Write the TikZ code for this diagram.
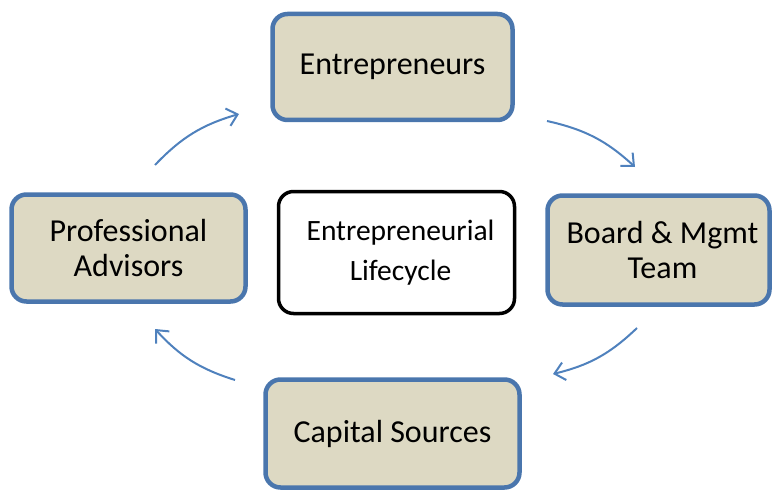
\documentclass[tikz,border=0pt]{standalone}
\usepackage{fontspec}
\setmainfont{Carlito}
\usetikzlibrary{arrows.meta}
\definecolor{boxblue}{HTML}{4A76AD}
\definecolor{arrowblue}{HTML}{4F81BD}
\definecolor{tan}{HTML}{DDD9C3}
\begin{document}
\begin{tikzpicture}[x=1pt,y=1pt,
  stagebox/.style={draw=boxblue, fill=tan, line width=4.5pt, rounded corners=15pt,
    align=center, inner sep=0pt, font=\fontsize{32}{35}\selectfont},
  corebox/.style={draw=black, fill=white, line width=3.5pt, rounded corners=15pt,
    align=center, inner sep=0pt, font=\fontsize{29.5}{40}\selectfont},
  flow/.style={draw=arrowblue, line width=2pt, -{Straight Barb[length=10pt,width=18pt,line width=2pt]}, bend left=15}
]
\useasboundingbox (0,0) rectangle (773,-492);
\node[stagebox, minimum width=240pt, minimum height=106pt] (ent) at (392.5,-67) {Entrepreneurs};
\node[stagebox, minimum width=234pt, minimum height=107pt] (adv) at (128.5,-248) {Professional\\Advisors};
\node[corebox, minimum width=236pt, minimum height=122pt] (core) at (396.5,-252.5) {\hspace*{8pt}Entrepreneurial\\\hspace*{8pt}Lifecycle};
\node[stagebox, minimum width=222pt, minimum height=109pt] (board) at (658.5,-250) {\hspace*{8pt}Board \& Mgmt\\\hspace*{8pt}Team};
\node[stagebox, minimum width=254pt, minimum height=108pt] (cap) at (392.5,-433.5) {Capital Sources};

\coordinate (a1s) at (155,-165); \coordinate (a1e) at (239,-114);
\coordinate (a2s) at (547,-121); \coordinate (a2e) at (635,-167);
\coordinate (a3s) at (637,-328); \coordinate (a3e) at (553,-374);
\coordinate (a4s) at (235,-380); \coordinate (a4e) at (155,-329);

\draw[flow] (a1s) to (a1e);
\draw[flow] (a2s) to (a2e);
\draw[flow] (a3s) to (a3e);
\draw[flow] (a4s) to (a4e);
\end{tikzpicture}
\end{document}
